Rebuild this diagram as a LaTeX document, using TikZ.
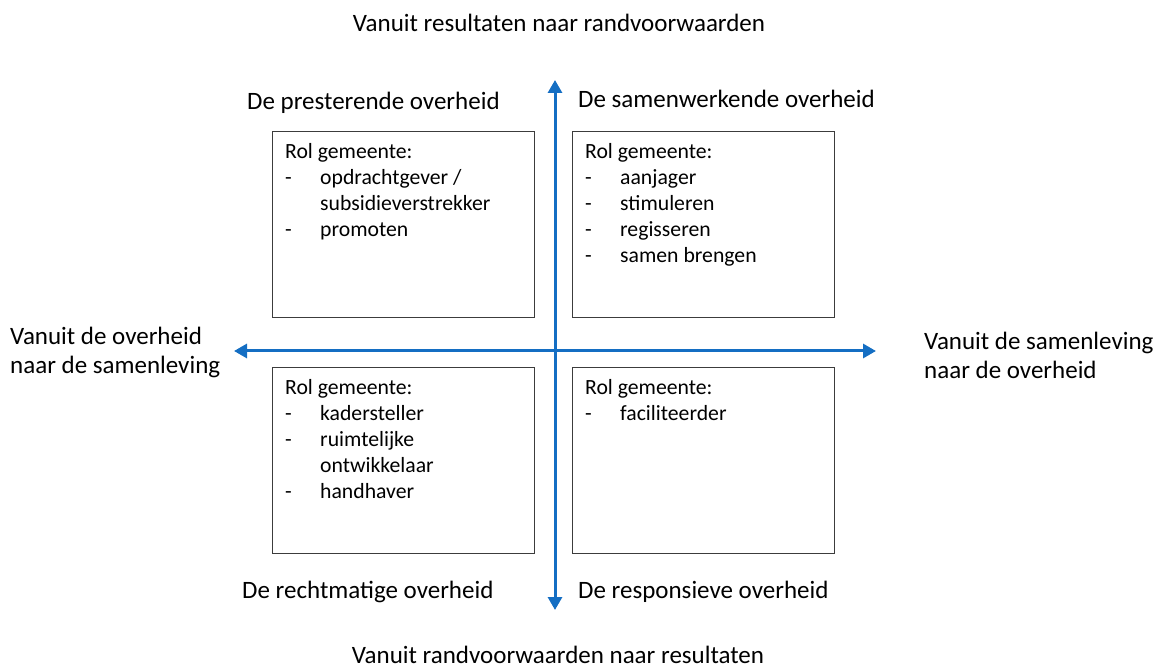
\documentclass[tikz,border=0pt]{standalone}
\usepackage{fontspec}
\setmainfont{Carlito}
\usetikzlibrary{arrows.meta}
\definecolor{axisblue}{RGB}{20,110,195}
\definecolor{boxline}{RGB}{60,60,60}
\tikzset{
  axis/.style={draw=axisblue, line width=3pt, {Triangle[width=14pt,length=13pt]}-{Triangle[width=14pt,length=13pt]}},
  rolebox/.style={draw=boxline, line width=1.2pt, minimum width=262pt, minimum height=186pt, inner sep=0pt, anchor=north west},
  roletext/.style={anchor=north west, align=left, inner sep=0pt, font=\fontsize{21.7}{26}\selectfont},
  lbl/.style={font=\fontsize{25}{29}\selectfont, inner sep=0pt},
}
\newcommand{\itm}[1]{\makebox[35pt][l]{-}#1}
\begin{document}
\begin{tikzpicture}[x=1pt,y=-1pt]
\useasboundingbox (0,0) rectangle (1163,668);
% axes
\coordinate (top) at (555,80);
\coordinate (bot) at (555,610);
\coordinate (lft) at (234,351);
\coordinate (rgt) at (876,351);
\draw[axis] (bot) -- (top);
\draw[axis] (lft) -- (rgt);
% boxes
\node[rolebox] (b1) at (272,131) {};
\node[rolebox] (b2) at (572,131) {};
\node[rolebox] (b3) at (272,367) {};
\node[rolebox] (b4) at (572,367) {};
\node[roletext] (t1) at (285,143) {Rol gemeente:\\\itm{opdrachtgever /}\\\hspace*{35pt}subsidieverstrekker\\\itm{promoten}};
\node[roletext] (t2) at (585,143) {Rol gemeente:\\\itm{aanjager}\\\itm{stimuleren}\\\itm{regisseren}\\\itm{samen brengen}};
\node[roletext] (t3) at (285,379) {Rol gemeente:\\\itm{kadersteller}\\\itm{ruimtelijke}\\\hspace*{35pt}ontwikkelaar\\\itm{handhaver}};
\node[roletext] (t4) at (585,379) {Rol gemeente:\\\itm{faciliteerder}};
% labels
\node[lbl] (ttop) at (559,23) {Vanuit resultaten naar randvoorwaarden};
\node[lbl] (tbot) at (558,655) {Vanuit randvoorwaarden naar resultaten};
\node[lbl, anchor=west] (q1) at (247,103) {De presterende overheid};
\node[lbl, anchor=west] (q2) at (578,99) {De samenwerkende overheid};
\node[lbl, anchor=west] (q3) at (242,592) {De rechtmatige overheid};
\node[lbl, anchor=west] (q4) at (578,592) {De responsieve overheid};
\node[lbl, anchor=west, align=left] (lt) at (10,352) {Vanuit de overheid\\naar de samenleving};
\node[lbl, anchor=west, align=left] (rt) at (924,355) {Vanuit de samenleving\\naar de overheid};
\end{tikzpicture}
\end{document}
